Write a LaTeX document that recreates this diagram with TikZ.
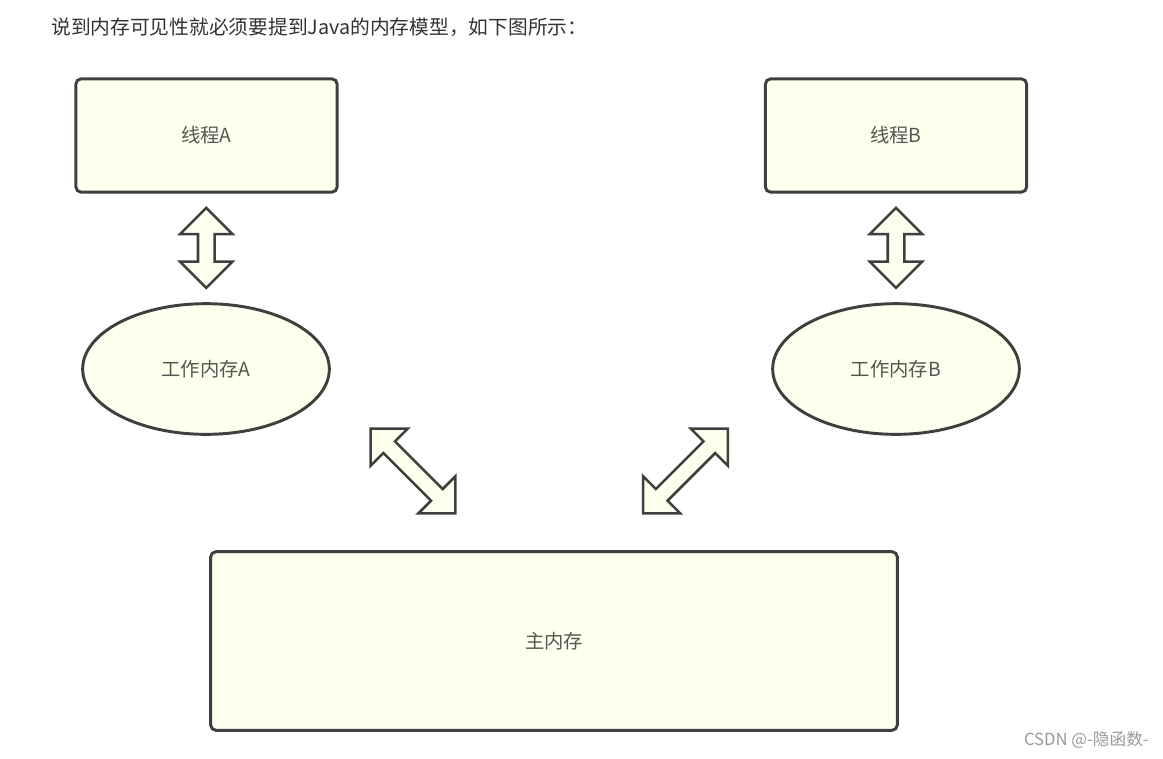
\documentclass[tikz,border=0pt]{standalone}
\usepackage{fontspec}
\usepackage{xcolor}
\usetikzlibrary{shapes.geometric,shapes.arrows,positioning,calc}
\newfontfamily\cjk{Noto Sans CJK SC}
\definecolor{memfill}{HTML}{FFFFEE}
\definecolor{memline}{HTML}{3F3F3F}
\definecolor{memtext}{HTML}{555555}
\definecolor{titletext}{HTML}{333333}

\begin{document}
\begin{tikzpicture}[x=0.75pt, y=-0.75pt,
  membox/.style={draw=memline, line width=2.2pt, fill=memfill, font=\cjk\fontsize{14.5}{16}\selectfont, text=memtext},
  thread/.style={membox, rectangle, rounded corners=4pt, minimum width=196pt, minimum height=85pt},
  workmem/.style={membox, ellipse, minimum width=185pt, minimum height=98pt},
  mainmem/.style={membox, rectangle, rounded corners=4pt, minimum width=515pt, minimum height=134pt},
  sync/.style={draw=memline, line width=1.9pt, fill=memfill, double arrow, double arrow tip angle=90,
    double arrow head extend=13.5pt, inner sep=5.25pt, outer sep=0pt, minimum height=60pt},
  diag/.style={sync, minimum height=90pt}
]
\useasboundingbox[fill=white] (0,0) rectangle (1163,758);

% Title line
\node[anchor=west, font=\cjk\fontsize{14.8}{16}\selectfont, text=titletext, inner sep=0pt] (title) at (51,27)
  {说到内存可见性就必须要提到Java的内存模型，如下图所示：};

% Threads
\node[thread] (threadA) at (206.5,135.5) {线程A};
\node[thread] (threadB) at (896,135.5) {线程B};

% Working memory
\node[workmem] (workA) at (206,369) {工作内存A};
\node[workmem] (workB) at (896,369) {工作内存B};

% Main memory
\node[mainmem] (main) at (554,641) {主内存};

% Thread <-> working memory
\node[sync, rotate=90] (syncA) at ($(threadA.south)!0.5!(workA.north)$) {};
\node[sync, rotate=90] (syncB) at ($(threadB.south)!0.5!(workB.north)$) {};

% Working memory <-> main memory
\node[diag, rotate=-45] (mainA) at (413,471) {};
\node[diag, rotate=45] (mainB) at (685.5,471) {};

% Watermark
\node[anchor=east, font=\cjk\fontsize{12.5}{14}\selectfont, text=black!40, inner sep=0pt] (mark) at (1149,740)
  {CSDN @-隐函数-};
\end{tikzpicture}
\end{document}
